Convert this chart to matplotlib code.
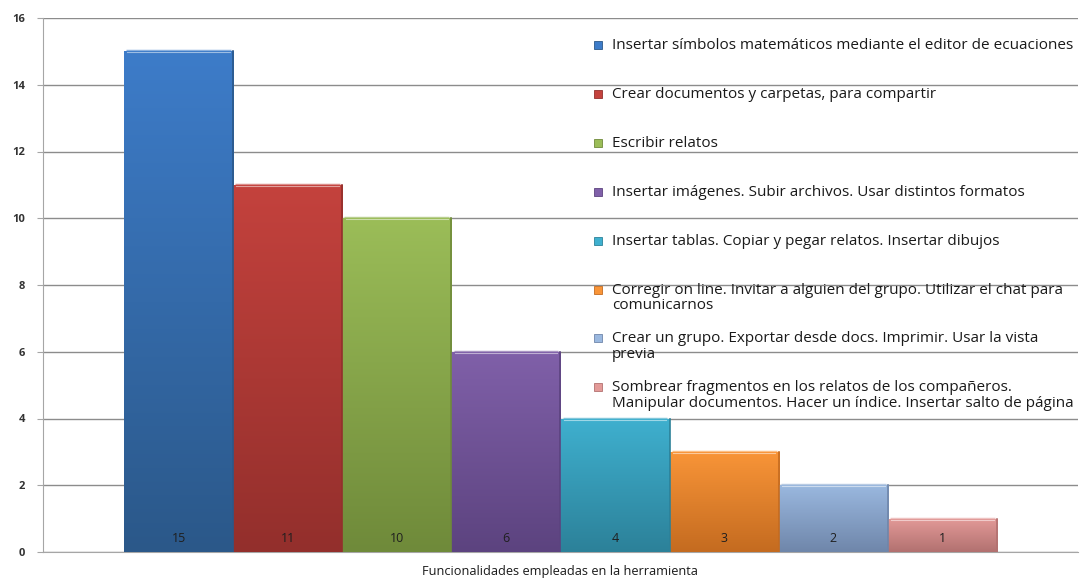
import matplotlib.pyplot as plt
import matplotlib.colors as mcolors
import numpy as np

plt.rcParams['font.family'] = ['Open Sans', 'DejaVu Sans']

categorias = [
    'Insertar símbolos matemáticos mediante el editor de ecuaciones',
    'Crear documentos y carpetas, para compartir',
    'Escribir relatos',
    'Insertar imágenes. Subir archivos. Usar distintos formatos',
    'Insertar tablas. Copiar y pegar relatos. Insertar dibujos',
    'Corregir on line. Invitar a alguien del grupo. Utilizar el chat para\ncomunicarnos',
    'Crear un grupo. Exportar desde docs. Imprimir. Usar la vista\nprevia',
    'Sombrear fragmentos en los relatos de los compañeros.\nManipular documentos. Hacer un índice. Insertar salto de página',
]
valores = [15, 11, 10, 6, 4, 3, 2, 1]
colores_arriba = ['#3d7cc9', '#c4423d', '#9bbd58', '#8060a9', '#3fb0cf', '#f99538', '#9ab8df', '#e39a98']
colores_abajo = ['#2b5889', '#932f2c', '#6f8a3a', '#5c437f', '#2c8199', '#c46b20', '#6f86aa', '#b27170']

fig = plt.figure(figsize=(10.82, 5.79), dpi=100)
ax = fig.add_axes([43/1082, 1-552/579, 1035/1082, 534/579])

x = np.arange(len(valores))
barras = ax.bar(x, valores, width=1.0, color='none', edgecolor='none', zorder=3)

# degradado vertical en cada barra (estilo Excel)
for b, c1, c2, v in zip(barras, colores_arriba, colores_abajo, valores):
    cmap = mcolors.LinearSegmentedColormap.from_list('g', [c2, c1])
    grad = np.linspace(0, 1, 256).reshape(-1, 1)
    x0, w, h = b.get_x(), b.get_width(), b.get_height()
    im = ax.imshow(grad, cmap=cmap, origin='lower', aspect='auto',
                   extent=[x0, x0 + w, 0, h], zorder=3)
    im.set_clip_path(b)
    ax.plot([x0 + 0.02, x0 + w - 0.02], [h, h], color=c1, lw=2.5, alpha=0.6,
            solid_capstyle='butt', zorder=4)
    ax.plot([x0 + 0.03, x0 + w - 0.03], [h - 0.03, h - 0.03], color='white', lw=0.8, alpha=0.5, zorder=4)
    ax.plot([x0 + w, x0 + w], [0, h], color=c2, lw=1.2, zorder=4)
    ax.text(x0 + w / 2, 0.4, str(v), ha='center', va='center', fontsize=9,
            color='#1f1f1f', zorder=5)

ax.set_xlim(-1.242, 8.242)
ax.set_ylim(0, 16)
ax.set_yticks(range(0, 17, 2))
ax.set_xticks([])
ax.yaxis.grid(True, color='#8c8c8c', lw=1)
ax.set_axisbelow(True)
for s in ['top', 'right']:
    ax.spines[s].set_visible(False)
ax.spines['left'].set_color('#a6a6a6')
ax.spines['bottom'].set_color('#a6a6a6')
ax.tick_params(axis='y', length=4, color='#a6a6a6', labelsize=8, labelcolor='#333333', pad=9)
for t in ax.get_yticklabels():
    t.set_fontweight('bold')

fig.text(560/1082, 1-572/579, 'Funcionalidades empleadas en la herramienta',
         ha='center', va='center', fontsize=9.2, color='#1a1a1a')

# leyenda dibujada a mano, una entrada por categoría
for i, (lab, c1, c2) in enumerate(zip(categorias, colores_arriba, colores_abajo)):
    ytop = 45 + 48.9 * i
    fig.patches.append(plt.Rectangle((594/1082, 1-(ytop+4)/579), 8/1082, 8/579,
                                     transform=fig.transFigure, facecolor=c1,
                                     edgecolor=c2, lw=0.6))
    fig.text(612/1082, 1-(ytop-7)/579, lab, ha='left', va='top', fontsize=11,
             color='#1a1a1a', linespacing=1.05)

fig.savefig('out.png', dpi=100)
